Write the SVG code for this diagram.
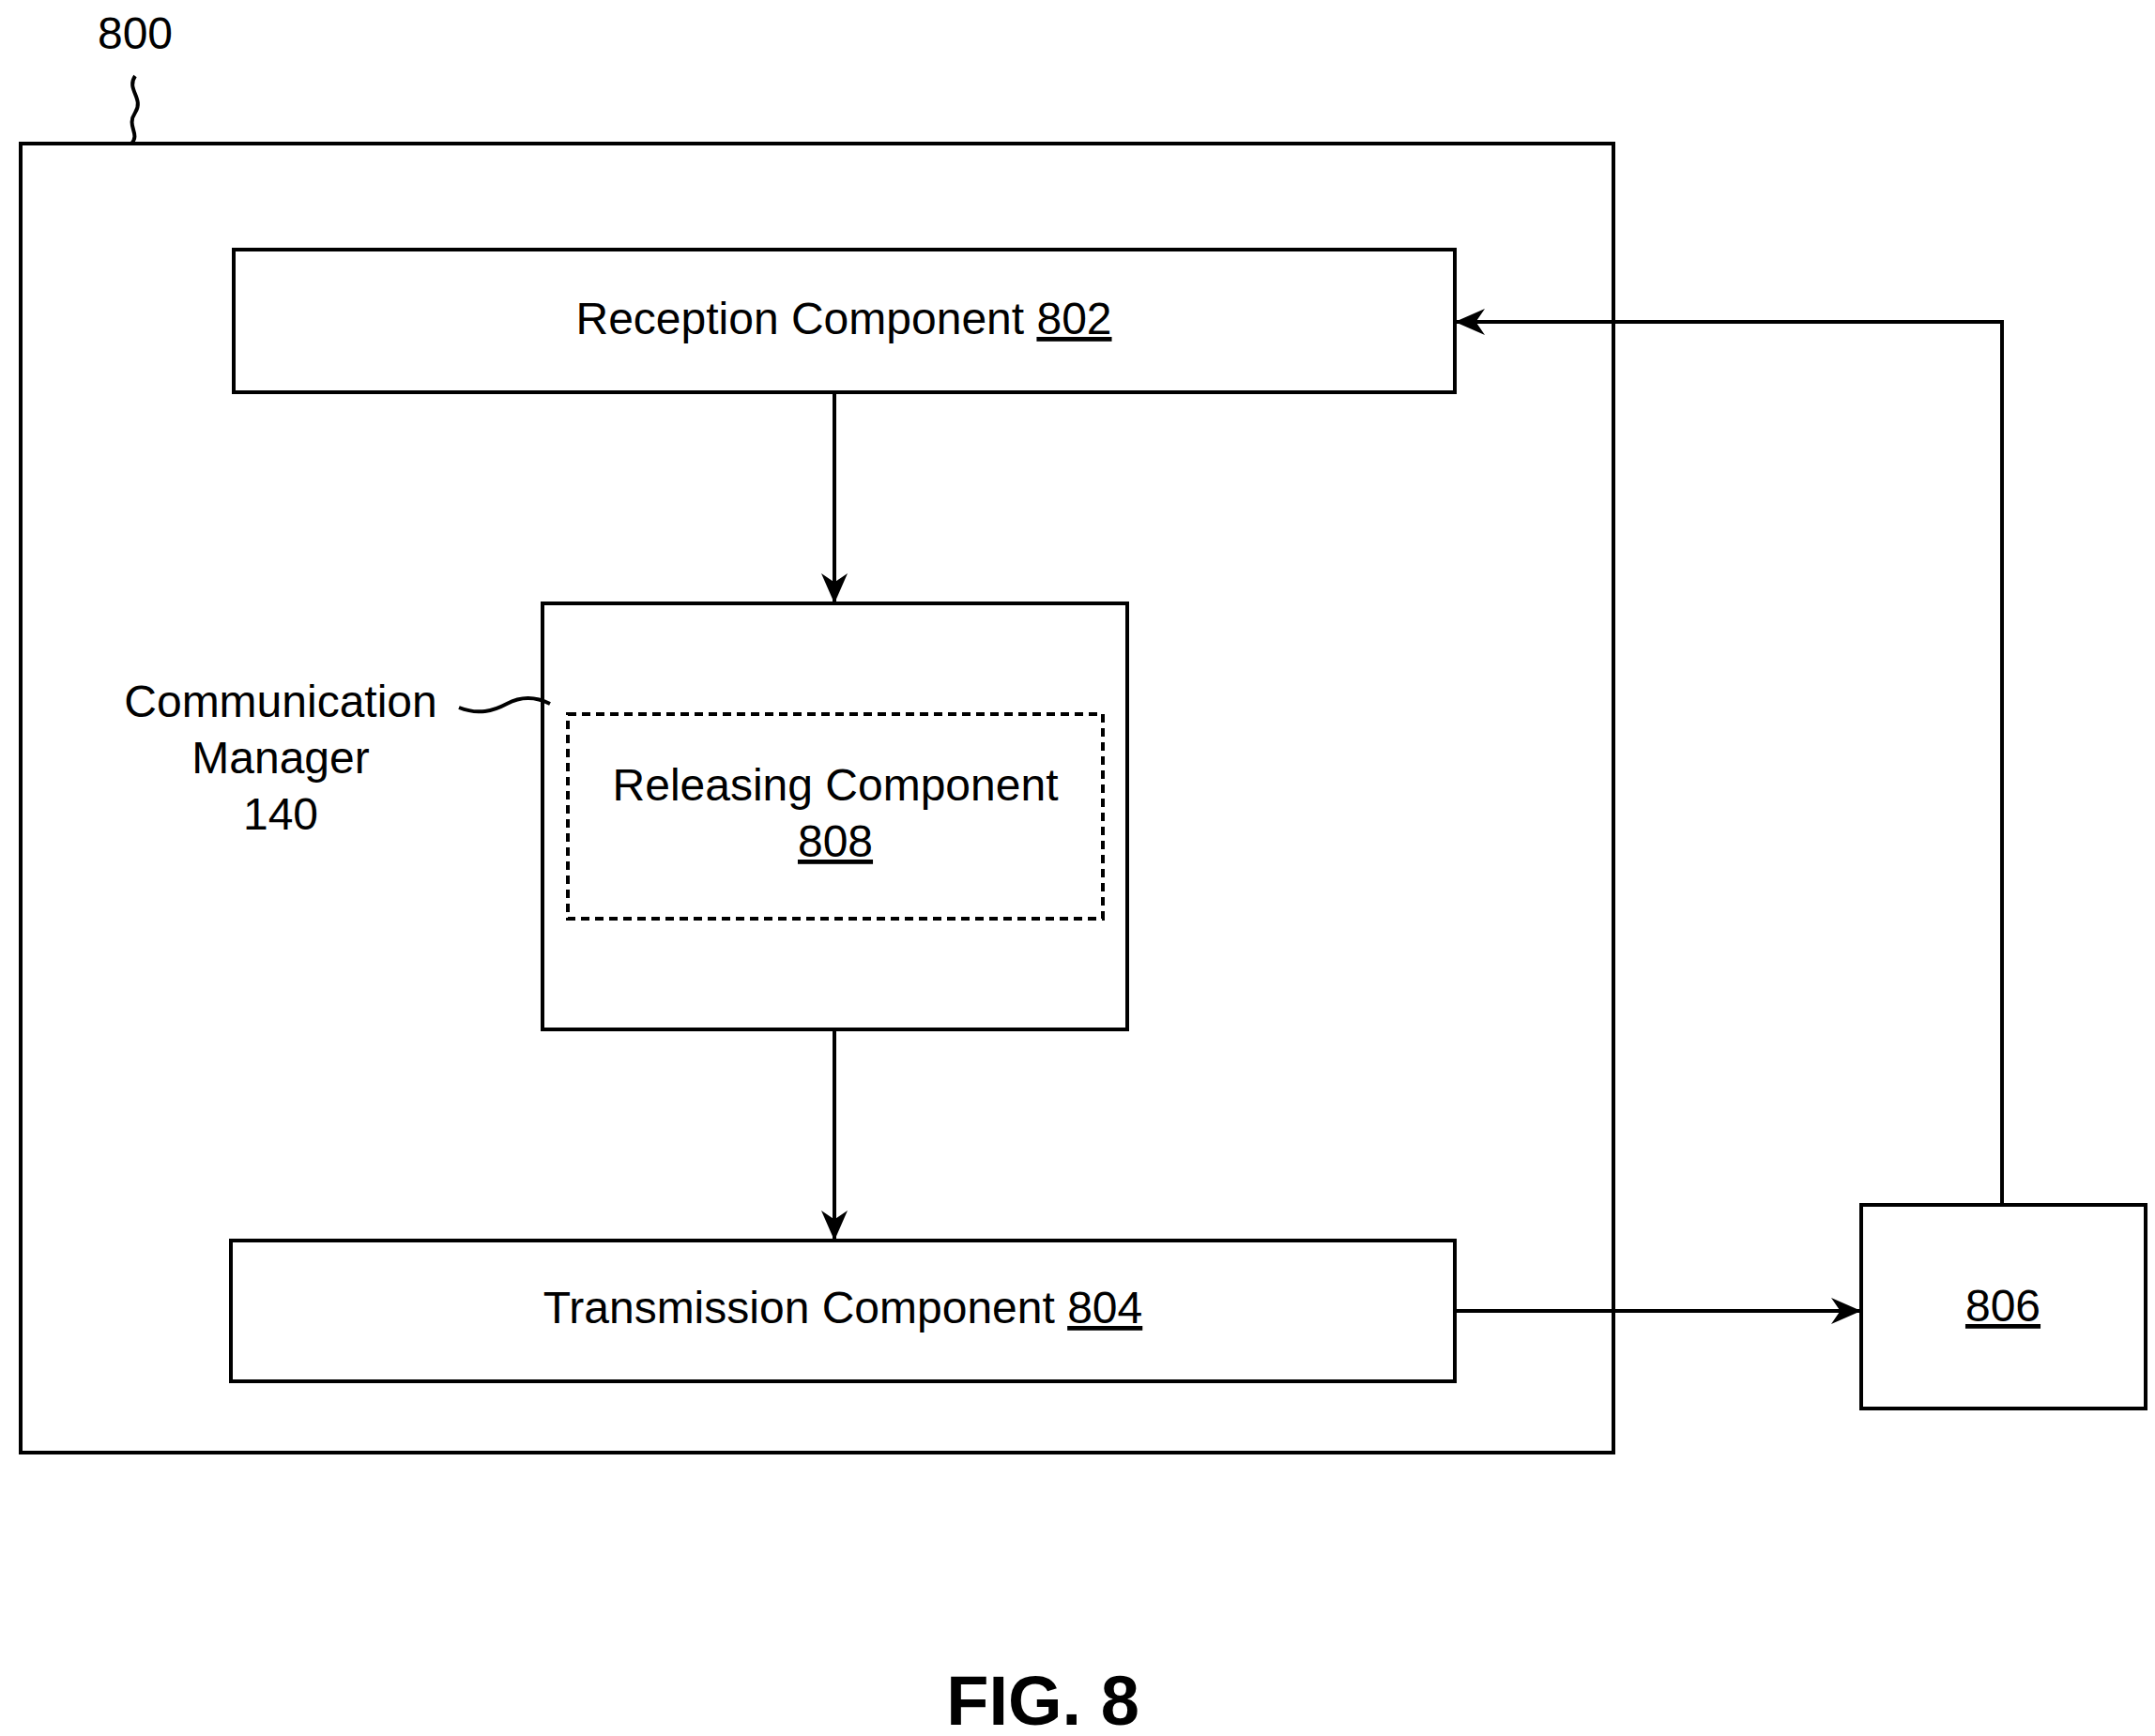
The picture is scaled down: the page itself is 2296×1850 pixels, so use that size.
<svg xmlns="http://www.w3.org/2000/svg" width="2296" height="1850" viewBox="0 0 2296 1850">
<style>
.b{fill:#fff;stroke:#000;stroke-width:4}
.t{font-family:"Liberation Sans",Arial,sans-serif;font-size:48px;fill:#000;text-anchor:middle}
.c{fill:none;stroke:#000;stroke-width:4}
</style>
<defs><marker id="a" viewBox="0 0 10 10" refX="10" refY="5" markerWidth="8" markerHeight="8" markerUnits="userSpaceOnUse" orient="auto"><path d="M0,0L10,5L0,10z" fill="#000"/></marker>
<marker id="ah" viewBox="0 0 10 10" refX="10" refY="5" markerWidth="32" markerHeight="28" markerUnits="userSpaceOnUse" orient="auto" preserveAspectRatio="none"><path d="M0,0L10,5L0,10L3,5z" fill="#000"/></marker></defs>
<rect fill="#fff" width="2296" height="1850"/>
<g id="n800"><rect class="b" x="22" y="153" width="1697" height="1395"/><text class="t" x="144" y="52">800</text><path class="c" d="M144,81 C134,95 154,105 144,120 C134,135 150,142 140,153"/></g>
<g id="n802"><rect class="b" x="249" y="266" width="1301" height="152"/><text class="t" x="899" y="356">Reception Component <tspan text-decoration="underline">802</tspan></text></g>
<g id="n140"><rect class="b" x="578" y="643" width="623" height="454"/><text class="t" x="299" y="764">Communication</text><text class="t" x="299" y="824">Manager</text><text class="t" x="299" y="884">140</text><path class="c" d="M489,754 C510,762 525,758 540,750 C555,742 570,742 586,750"/></g>
<g id="n808"><rect x="605" y="761" width="570" height="218" fill="none" stroke="#000" stroke-width="4" stroke-dasharray="9,6"/><text class="t" x="890" y="853">Releasing Component</text><text class="t" x="890" y="913" text-decoration="underline">808</text></g>
<g id="n804"><rect class="b" x="246" y="1322" width="1304" height="150"/><text class="t" x="898" y="1410">Transmission Component <tspan text-decoration="underline">804</tspan></text></g>
<g id="n806"><rect class="b" x="1983" y="1284" width="303" height="217"/><text class="t" x="2134" y="1408" text-decoration="underline">806</text></g>
<g id="connectors">
<path class="c" d="M889,418V643" marker-end="url(#ah)"/>
<path class="c" d="M889,1097V1322" marker-end="url(#ah)"/>
<path class="c" d="M1550,1397H1983" marker-end="url(#ah)"/>
<path class="c" d="M2133,1284V343H1550" marker-end="url(#ah)"/>
</g>
<text x="1111" y="1838" style="font-family:'Liberation Sans',Arial,sans-serif;font-size:74px;font-weight:bold;text-anchor:middle">FIG. 8</text>
</svg>
